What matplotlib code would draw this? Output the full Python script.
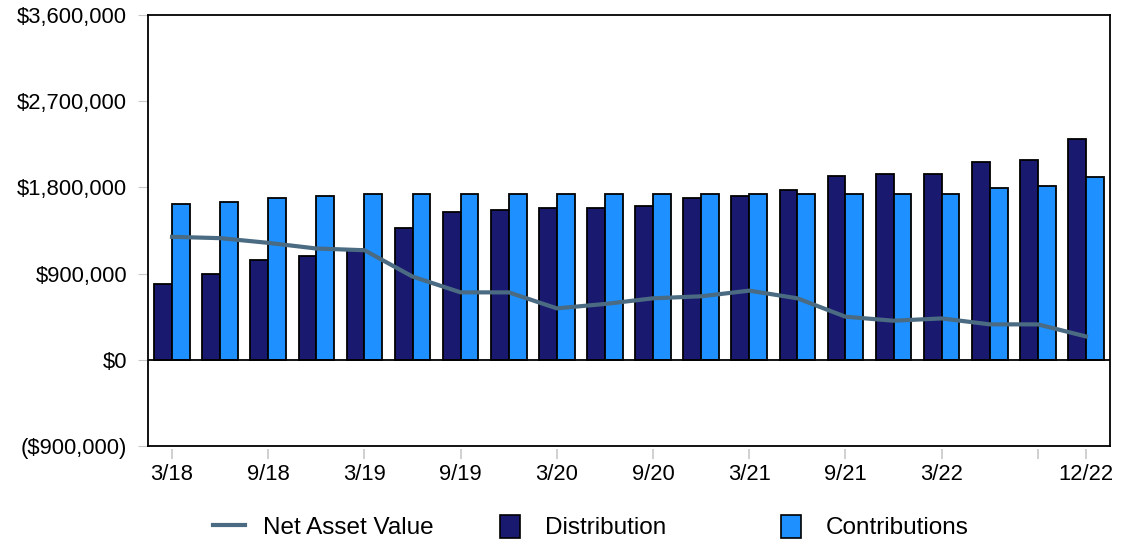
import numpy as np
import matplotlib
matplotlib.use('Agg')
import matplotlib.pyplot as plt
from matplotlib.patches import Patch
from matplotlib.lines import Line2D
from matplotlib.ticker import FuncFormatter

plt.rcParams['font.family'] = ['Liberation Sans', 'DejaVu Sans']

quarters = ['3/18', '6/18', '9/18', '12/18', '3/19', '6/19', '9/19', '12/19',
            '3/20', '6/20', '9/20', '12/20', '3/21', '6/21', '9/21', '12/21',
            '3/22', '6/22', '9/22', '12/22']
distribution = [788000, 893000, 1039000, 1081000, 1158000, 1374000, 1542000, 1563000,
                1584000, 1584000, 1601000, 1688000, 1706000, 1769000, 1915000, 1939000,
                1939000, 2062000, 2083000, 2310000]
contributions = [1622000, 1646000, 1685000, 1706000, 1727000, 1727000, 1727000, 1727000,
                 1727000, 1727000, 1727000, 1727000, 1727000, 1727000, 1727000, 1727000,
                 1727000, 1790000, 1810000, 1912000]
nav = [1284000, 1270000, 1221000, 1162000, 1144000, 869000, 704000, 704000,
       537000, 583000, 642000, 663000, 722000, 642000, 450000, 408000,
       432000, 370000, 370000, 244000]
tick_labels = ['3/18', '9/18', '3/19', '9/19', '3/20', '9/20', '3/21', '9/21', '3/22', '', '12/22']
tick_idx = [0, 2, 4, 6, 8, 10, 12, 14, 16, 18, 19]

navy = '#191970'
light = '#1E90FF'
line_c = '#4A6B82'

fig = plt.figure(figsize=(11.24, 5.41), dpi=100)
ax = fig.add_axes([148 / 1124, 1 - 446 / 541, 962 / 1124, 431 / 541])

x = np.arange(len(quarters))
w = 0.37
ax.bar(x - w / 2, distribution, w, color=navy, edgecolor='black', linewidth=1.3, zorder=2)
ax.bar(x + w / 2, contributions, w, color=light, edgecolor='black', linewidth=1.3, zorder=2)
ax.plot(x, nav, color=line_c, linewidth=3, zorder=3)
ax.axhline(0, color='black', linewidth=1.3, zorder=4)

ax.set_xlim(-0.5, len(quarters) - 0.5)
ax.set_ylim(-900000, 3600000)
ax.set_yticks(np.arange(-900000, 3600001, 900000))


def money(v, pos):
    if v < 0:
        return '(${:,.0f})'.format(-v)
    return '${:,.0f}'.format(v)


ax.yaxis.set_major_formatter(FuncFormatter(money))
ax.tick_params(axis='y', direction='out', length=7, color='#c8c8c8', labelsize=15.8, pad=8)

ax.set_xticks([x[i] for i in tick_idx])
ax.set_xticklabels(tick_labels)
ax.tick_params(axis='x', length=0, labelsize=15.8, pad=13)
trans = ax.get_xaxis_transform()
ax.vlines([x[i] for i in tick_idx], -0.006, -0.03, transform=trans, color='#c8c8c8',
          linewidth=1.2, clip_on=False)

for s in ax.spines.values():
    s.set_linewidth(1.3)

# three separate legend entries, placed like the original
entries = [
    (Line2D([0], [0], color=line_c, linewidth=3), 'Net Asset Value', 213, 1.32, 0.74),
    (Patch(facecolor=navy, edgecolor='black', linewidth=1.2), 'Distribution', 500, 0.82, 1.03),
    (Patch(facecolor=light, edgecolor='black', linewidth=1.2), 'Contributions', 781, 0.82, 1.03),
]
for h, lab, left, hl, tp in entries:
    leg = fig.legend([h], [lab], loc='center left', bbox_to_anchor=(left / 1124, 1 - 527 / 541),
                     frameon=False, fontsize=17.5, handlelength=hl, handleheight=1.1,
                     handletextpad=tp, borderpad=0, borderaxespad=0)

fig.savefig('out.png', dpi=100)
